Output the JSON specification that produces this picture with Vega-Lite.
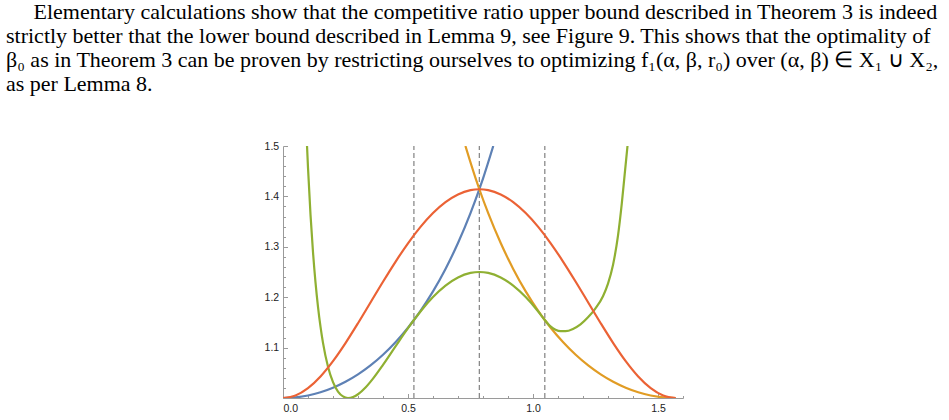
{
  "$schema": "https://vega.github.io/schema/vega-lite/v6.json",
  "width": 400,
  "height": 252,
  "autosize": {"type": "none"},
  "padding": {"left": 283, "top": 146, "right": 266, "bottom": 22},
  "background": "white",
  "title": {
    "text": [
      "\u200b\u00a0\u00a0\u00a0\u00a0\u00a0Elementary calculations show that the competitive ratio upper bound described in Theorem 3 is indeed",
      "strictly better that the lower bound described in Lemma 9, see Figure 9. This shows that the optimality of",
      "β₀ as in Theorem 3 can be proven by restricting ourselves to optimizing f₁(α, β, r₀) over (α, β) ∈ X₁ ∪ X₂,",
      "as per Lemma 8."
    ],
    "anchor": "start",
    "frame": "group",
    "font": "Liberation Serif",
    "fontSize": 22,
    "fontWeight": "normal",
    "lineHeight": 24,
    "color": "#000000",
    "baseline": "alphabetic",
    "offset": 28,
    "dx": -277
  },
  "datasets": {
    "bounds": [
      {"theta": 0.5236},
      {"theta": 0.7854},
      {"theta": 1.0472}
    ],
    "curves": [
      {"series": "f1", "theta": 0, "value": 1},
      {"series": "f1", "theta": 0.05, "value": 1.00125},
      {"series": "f1", "theta": 0.1, "value": 1.00502},
      {"series": "f1", "theta": 0.15, "value": 1.01136},
      {"series": "f1", "theta": 0.2, "value": 1.02034},
      {"series": "f1", "theta": 0.25, "value": 1.03209},
      {"series": "f1", "theta": 0.3, "value": 1.04675},
      {"series": "f1", "theta": 0.35, "value": 1.06454},
      {"series": "f1", "theta": 0.4, "value": 1.0857},
      {"series": "f1", "theta": 0.45, "value": 1.11056},
      {"series": "f1", "theta": 0.5, "value": 1.13949},
      {"series": "f1", "theta": 0.5236, "value": 1.1547},
      {"series": "f1", "theta": 0.55, "value": 1.17299},
      {"series": "f1", "theta": 0.6, "value": 1.21163},
      {"series": "f1", "theta": 0.65, "value": 1.25615},
      {"series": "f1", "theta": 0.7, "value": 1.30746},
      {"series": "f1", "theta": 0.75, "value": 1.3667},
      {"series": "f1", "theta": 0.7854, "value": 1.41421},
      {"series": "f1", "theta": 0.8, "value": 1.43532},
      {"series": "f1", "theta": 0.8411, "value": 1.5},

      {"series": "f2", "theta": 0.7297, "value": 1.5},
      {"series": "f2", "theta": 0.7708, "value": 1.43532},
      {"series": "f2", "theta": 0.7854, "value": 1.41421},
      {"series": "f2", "theta": 0.8208, "value": 1.3667},
      {"series": "f2", "theta": 0.8708, "value": 1.30746},
      {"series": "f2", "theta": 0.9208, "value": 1.25615},
      {"series": "f2", "theta": 0.9708, "value": 1.21163},
      {"series": "f2", "theta": 1.0208, "value": 1.17299},
      {"series": "f2", "theta": 1.0472, "value": 1.1547},
      {"series": "f2", "theta": 1.0708, "value": 1.13949},
      {"series": "f2", "theta": 1.1208, "value": 1.11056},
      {"series": "f2", "theta": 1.1708, "value": 1.0857},
      {"series": "f2", "theta": 1.2208, "value": 1.06454},
      {"series": "f2", "theta": 1.2708, "value": 1.04675},
      {"series": "f2", "theta": 1.3208, "value": 1.03209},
      {"series": "f2", "theta": 1.3708, "value": 1.02034},
      {"series": "f2", "theta": 1.4208, "value": 1.01136},
      {"series": "f2", "theta": 1.4708, "value": 1.00502},
      {"series": "f2", "theta": 1.5208, "value": 1.00125},
      {"series": "f2", "theta": 1.5708, "value": 1},

      {"series": "f3", "theta": 0.0961, "value": 1.5},
      {"series": "f3", "theta": 0.1, "value": 1.45704},
      {"series": "f3", "theta": 0.11, "value": 1.36381},
      {"series": "f3", "theta": 0.12, "value": 1.28945},
      {"series": "f3", "theta": 0.13, "value": 1.22954},
      {"series": "f3", "theta": 0.14, "value": 1.18098},
      {"series": "f3", "theta": 0.15, "value": 1.14149},
      {"series": "f3", "theta": 0.16, "value": 1.10931},
      {"series": "f3", "theta": 0.18, "value": 1.06195},
      {"series": "f3", "theta": 0.2, "value": 1.0314},
      {"series": "f3", "theta": 0.22, "value": 1.01288},
      {"series": "f3", "theta": 0.24, "value": 1.00316},
      {"series": "f3", "theta": 0.26, "value": 1.00002},
      {"series": "f3", "theta": 0.28, "value": 1.00183},
      {"series": "f3", "theta": 0.3, "value": 1.0074},
      {"series": "f3", "theta": 0.33, "value": 1.02087},
      {"series": "f3", "theta": 0.36, "value": 1.03852},
      {"series": "f3", "theta": 0.4, "value": 1.06586},
      {"series": "f3", "theta": 0.45, "value": 1.10248},
      {"series": "f3", "theta": 0.5, "value": 1.13857},
      {"series": "f3", "theta": 0.5236, "value": 1.1547},
      {"series": "f3", "theta": 0.55, "value": 1.17173},
      {"series": "f3", "theta": 0.6, "value": 1.20027},
      {"series": "f3", "theta": 0.65, "value": 1.22302},
      {"series": "f3", "theta": 0.7, "value": 1.23914},
      {"series": "f3", "theta": 0.75, "value": 1.24812},
      {"series": "f3", "theta": 0.7854, "value": 1.25},
      {"series": "f3", "theta": 0.8208, "value": 1.24812},
      {"series": "f3", "theta": 0.8708, "value": 1.23914},
      {"series": "f3", "theta": 0.9208, "value": 1.22302},
      {"series": "f3", "theta": 0.9708, "value": 1.20027},
      {"series": "f3", "theta": 1.0208, "value": 1.17173},
      {"series": "f3", "theta": 1.0472, "value": 1.1547},
      {"series": "f3", "theta": 1.07, "value": 1.142},
      {"series": "f3", "theta": 1.09, "value": 1.1355},
      {"series": "f3", "theta": 1.11, "value": 1.1325},
      {"series": "f3", "theta": 1.13, "value": 1.1325},
      {"series": "f3", "theta": 1.16, "value": 1.137},
      {"series": "f3", "theta": 1.19, "value": 1.146},
      {"series": "f3", "theta": 1.22, "value": 1.16},
      {"series": "f3", "theta": 1.25, "value": 1.178},
      {"series": "f3", "theta": 1.28, "value": 1.202},
      {"series": "f3", "theta": 1.3, "value": 1.227},
      {"series": "f3", "theta": 1.32, "value": 1.264},
      {"series": "f3", "theta": 1.34, "value": 1.322},
      {"series": "f3", "theta": 1.355, "value": 1.385},
      {"series": "f3", "theta": 1.367, "value": 1.445},
      {"series": "f3", "theta": 1.378, "value": 1.5},

      {"series": "f4", "theta": 0, "value": 1},
      {"series": "f4", "theta": 0.05, "value": 1.004971},
      {"series": "f4", "theta": 0.1, "value": 1.019544},
      {"series": "f4", "theta": 0.15, "value": 1.042751},
      {"series": "f4", "theta": 0.2, "value": 1.07315},
      {"series": "f4", "theta": 0.25, "value": 1.108986},
      {"series": "f4", "theta": 0.3, "value": 1.148399},
      {"series": "f4", "theta": 0.35, "value": 1.189546},
      {"series": "f4", "theta": 0.4, "value": 1.230691},
      {"series": "f4", "theta": 0.45, "value": 1.270276},
      {"series": "f4", "theta": 0.5, "value": 1.306932},
      {"series": "f4", "theta": 0.55, "value": 1.339496},
      {"series": "f4", "theta": 0.6, "value": 1.367004},
      {"series": "f4", "theta": 0.65, "value": 1.388686},
      {"series": "f4", "theta": 0.7, "value": 1.403962},
      {"series": "f4", "theta": 0.75, "value": 1.412441},
      {"series": "f4", "theta": 0.7854, "value": 1.414214},
      {"series": "f4", "theta": 0.8208, "value": 1.412441},
      {"series": "f4", "theta": 0.8708, "value": 1.403962},
      {"series": "f4", "theta": 0.9208, "value": 1.388686},
      {"series": "f4", "theta": 0.9708, "value": 1.367004},
      {"series": "f4", "theta": 1.0208, "value": 1.339496},
      {"series": "f4", "theta": 1.0708, "value": 1.306932},
      {"series": "f4", "theta": 1.1208, "value": 1.270276},
      {"series": "f4", "theta": 1.1708, "value": 1.230691},
      {"series": "f4", "theta": 1.2208, "value": 1.189546},
      {"series": "f4", "theta": 1.2708, "value": 1.148399},
      {"series": "f4", "theta": 1.3208, "value": 1.108986},
      {"series": "f4", "theta": 1.3708, "value": 1.07315},
      {"series": "f4", "theta": 1.4208, "value": 1.042751},
      {"series": "f4", "theta": 1.4708, "value": 1.019544},
      {"series": "f4", "theta": 1.5208, "value": 1.004971},
      {"series": "f4", "theta": 1.5708, "value": 1}
    ]
  },
  "config": {
    "view": {"stroke": null},
    "axis": {
      "grid": false,
      "title": null,
      "domainColor": "#9a9a9a",
      "tickColor": "#9a9a9a",
      "domainWidth": 1,
      "tickWidth": 1,
      "labelFont": "Liberation Sans",
      "labelFontSize": 10.5,
      "labelColor": "#222222"
    }
  },
  "resolve": {"axis": {"x": "independent", "y": "independent"}},
  "layer": [
    {
      "data": {"name": "bounds"},
      "mark": {"type": "rule", "color": "#8a8a8a", "strokeWidth": 1.3, "strokeDash": [5, 3]},
      "encoding": {
        "x": {
          "field": "theta",
          "type": "quantitative",
          "scale": {"domain": [0, 1.6], "nice": false, "zero": false},
          "axis": {
            "orient": "bottom",
            "values": [0.1, 0.2, 0.3, 0.4, 0.6, 0.7, 0.8, 0.9, 1.1, 1.2, 1.3, 1.4, 1.6],
            "labels": false,
            "domain": false,
            "tickSize": -2.5
          }
        },
        "y": {
          "datum": 1,
          "type": "quantitative",
          "scale": {"domain": [1, 1.5], "nice": false, "zero": false},
          "axis": {
            "orient": "left",
            "values": [1.02, 1.04, 1.06, 1.08, 1.12, 1.14, 1.16, 1.18, 1.22, 1.24, 1.26, 1.28, 1.32, 1.34, 1.36, 1.38, 1.42, 1.44, 1.46, 1.48],
            "labels": false,
            "domain": false,
            "tickSize": -2.5
          }
        },
        "y2": {"datum": 1.5}
      }
    },
    {
      "data": {"name": "curves"},
      "mark": {"type": "line", "strokeWidth": 2.2, "interpolate": "monotone", "clip": true},
      "encoding": {
        "x": {
          "field": "theta",
          "type": "quantitative",
          "axis": {
            "orient": "bottom",
            "values": [0, 0.5, 1, 1.5],
            "format": ".1f",
            "tickSize": -4.5,
            "labelPadding": 10
          }
        },
        "y": {
          "field": "value",
          "type": "quantitative",
          "axis": {
            "orient": "left",
            "values": [1, 1.1, 1.2, 1.3, 1.4, 1.5],
            "labelExpr": "datum.value == 1 ? '' : format(datum.value, '.1f')",
            "tickSize": -4.5,
            "labelPadding": 8.8
          }
        },
        "color": {
          "field": "series",
          "type": "nominal",
          "scale": {"domain": ["f1", "f2", "f3", "f4"], "range": ["#5E81B5", "#E19C24", "#8FB032", "#EB6235"]},
          "legend": null
        }
      }
    }
  ]
}
